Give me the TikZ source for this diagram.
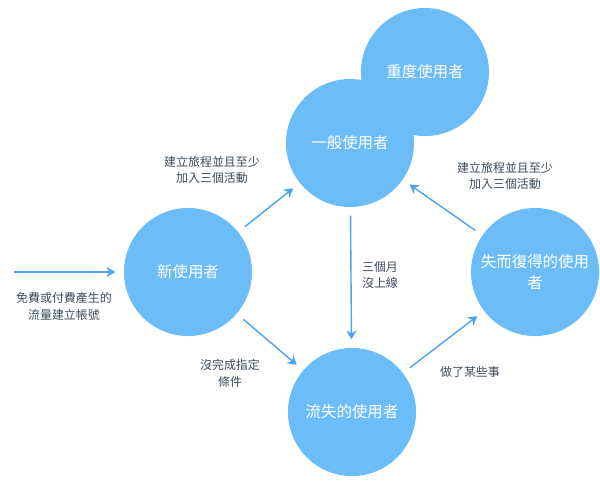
\documentclass[tikz,border=0pt]{standalone}
\usepackage{fontspec}
\setmainfont{Noto Sans CJK TC}
\usetikzlibrary{arrows.meta}
\definecolor{userblue}{HTML}{6CBDF7}
\definecolor{arrowblue}{HTML}{4AA3EE}
\definecolor{labelgray}{HTML}{3A4A5A}
\tikzset{%
  >={Stealth[width=2.6mm,length=2.2mm]},
  usercircle/.style = {circle, fill=userblue, minimum size=3.2cm, inner sep=0pt,
                       align=center, font=\fontsize{11}{15}\selectfont, text=white},
  flow/.style = {->, draw=arrowblue, line width=1pt, shorten <=6pt, shorten >=6pt},
  note/.style = {align=center, text=labelgray, font=\fontsize{8.5}{12}\selectfont},
}
\begin{document}
\begin{tikzpicture}[x=0.025cm, y=-0.025cm]
  \useasboundingbox (0,0) rectangle (600,483);

  \node (heavy)  [usercircle] at (425,72)  {重度使用者};
  \node (normal) [usercircle] at (350,143) {一般使用者};
  \node (new)    [usercircle] at (188,272) {新使用者};
  \node (lost)   [usercircle] at (352,412) {流失的使用者};
  \node (back)   [usercircle] at (535,272) {失而復得的使用\\者};
  \coordinate (entry) at (14,272);

  \draw[flow, shorten <=0pt] (entry) -- (new);
  \draw[flow] (new)    -- (normal);
  \draw[flow] (normal) -- (lost);
  \draw[flow] (new)    -- (lost);
  \draw[flow] (lost)   -- (back);
  \draw[flow] (back)   -- (normal);

  \node (nEntry) [note] at (64,306)  {免費或付費產生的\\流量建立帳號};
  \node (nNew)   [note] at (212,170) {建立旅程並且至少\\加入三個活動};
  \node (nLost)  [note] at (380,275) {三個月\\沒上線};
  \node (nFail)  [note] at (230,373) {沒完成指定\\條件};
  \node (nDone)  [note] at (470,372) {做了某些事};
  \node (nBack)  [note] at (505,176) {建立旅程並且至少\\加入三個活動};
\end{tikzpicture}
\end{document}
